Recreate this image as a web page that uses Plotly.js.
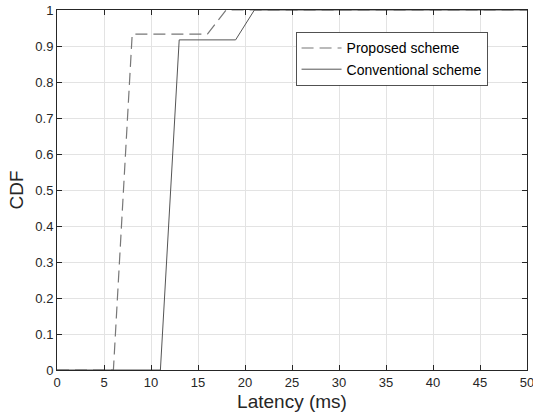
<!DOCTYPE html>
<html><head><meta charset="utf-8">
<script src="https://cdn.plot.ly/plotly-3.0.1.min.js"></script>
<style>html,body{margin:0;padding:0;background:#fff}#plot{width:533px;height:420px}</style>
</head><body><div id="plot"></div>
<script>
const proposedX = [0, 6, 8, 16, 18, 50];
const proposedY = [0, 0, 0.933, 0.933, 1, 1];
const conventionalX = [0, 11, 13, 19, 21, 50];
const conventionalY = [0, 0, 0.917, 0.917, 1, 1];
const xTicks = [0,5,10,15,20,25,30,35,40,45,50];
const yTicks = [0,0.1,0.2,0.3,0.4,0.5,0.6,0.7,0.8,0.9,1];
const yTickText = ['0','0.1','0.2','0.3','0.4','0.5','0.6','0.7','0.8','0.9','1'];

const traces = [
 {x: proposedX, y: proposedY, mode:'lines', name:'Proposed scheme', line:{color:'#777', width:1.2, dash:'12px,6px'}},
 {x: conventionalX, y: conventionalY, mode:'lines', name:'Conventional scheme', line:{color:'#555', width:1}}
];
const axisCommon = {showline:true, mirror:'ticks', linecolor:'#262626', linewidth:1, ticks:'inside', ticklen:5, tickcolor:'#262626',
  showgrid:true, gridcolor:'#e3e3e3', gridwidth:1, zeroline:false, ticklabeloverflow:'allow',
  tickfont:{family:'Liberation Sans, Arial', size:13, color:'#262626'}};
const layout = {
 width:533, height:420, margin:{l:57, r:6, t:10, b:50},
 paper_bgcolor:'#fff', plot_bgcolor:'#fff',
 xaxis: Object.assign({}, axisCommon, {range:[0,50], tickvals:xTicks, ticktext:xTicks.map(String),
   title:{text:'Latency (ms)', font:{family:'Liberation Sans, Arial', size:19, color:'#262626'}, standoff:6}}),
 yaxis: Object.assign({}, axisCommon, {range:[0,1], tickvals:yTicks, ticktext:yTickText,
   title:{text:'CDF', font:{family:'Liberation Sans, Arial', size:19, color:'#262626'}, standoff:6}}),
 showlegend:true,
 legend:{x:0.508, y:0.94, xanchor:'left', yanchor:'top', bgcolor:'#fff', bordercolor:'#262626', borderwidth:0.8,
   font:{family:'Liberation Sans, Arial', size:14, color:'#000'}, tracegroupgap:0, itemwidth:40}
};
Plotly.newPlot('plot', traces, layout, {displayModeBar:false, staticPlot:true});
</script></body></html>
